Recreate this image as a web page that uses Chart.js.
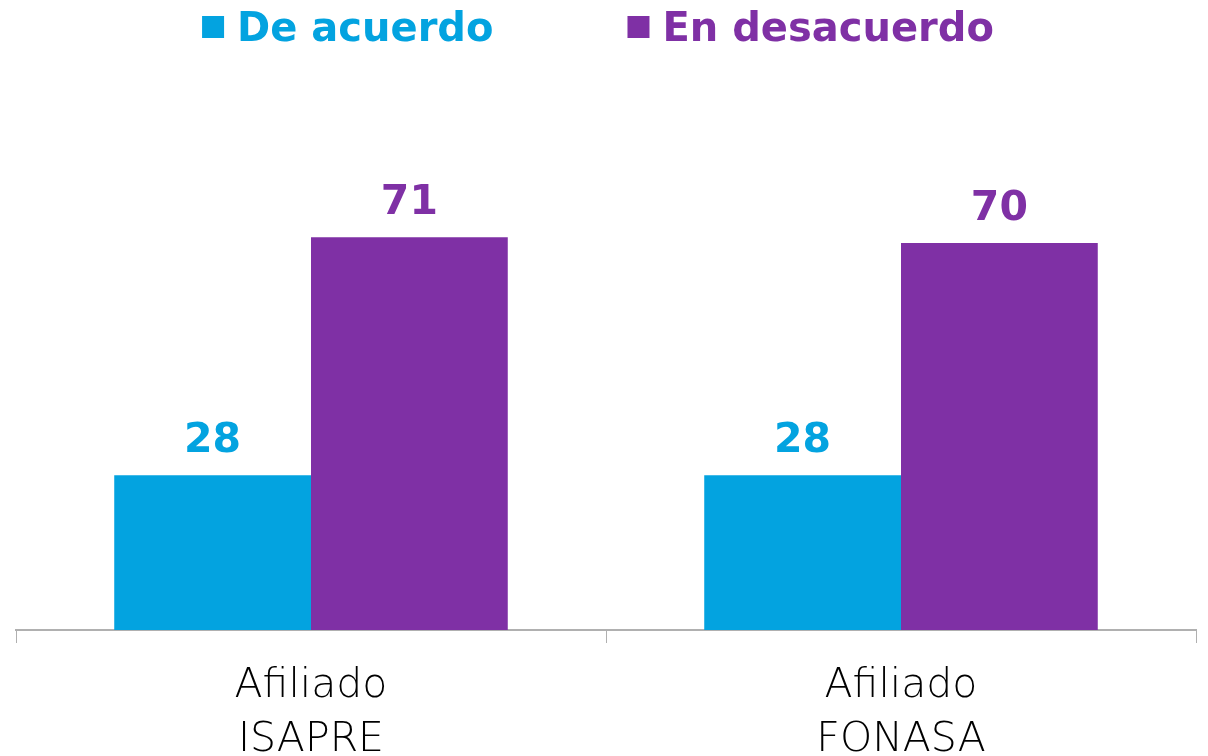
<!DOCTYPE html>
<html>
<head>
<meta charset="utf-8">
<script src="https://cdn.jsdelivr.net/npm/chart.js@4.4.1/dist/chart.umd.min.js"></script>
<style>
  html, body { margin: 0; padding: 0; background: #fff; overflow: hidden; }
  #wrap { width: 1208px; height: 783px; }
</style>
</head>
<body>
<div id="wrap"><canvas id="chart"></canvas></div>
<script>
const categories = [['Afiliado', 'ISAPRE'], ['Afiliado', 'FONASA']];
const seriesNames = ['De acuerdo', 'En desacuerdo'];
const deAcuerdo = [28, 28];
const enDesacuerdo = [71, 70];
const colors = ['#03a3e0', '#7f30a5'];

const boldFont = '"DejaVu Sans"';

// value above each bar
const valueLabels = {
    id: 'valueLabels',
    afterDatasetsDraw(chart) {
        const ctx = chart.ctx;
        ctx.save();
        ctx.font = 'bold 41px ' + boldFont;
        ctx.textAlign = 'center';
        ctx.textBaseline = 'alphabetic';
        chart.data.datasets.forEach((ds, i) => {
            ctx.fillStyle = ds.backgroundColor;
            chart.getDatasetMeta(i).data.forEach((bar, j) => {
                ctx.fillText(ds.data[j], bar.x, bar.y - 23);
            });
        });
        ctx.restore();
    }
};

// legend on top, drawn by hand so spacing matches
const topLegend = {
    id: 'topLegend',
    afterDraw(chart) {
        const ctx = chart.ctx;
        const box = 22, gapText = 13, gapItem = 134;
        ctx.save();
        ctx.font = 'bold 40px ' + boldFont;
        ctx.textBaseline = 'alphabetic';
        ctx.textAlign = 'left';
        const widths = chart.data.datasets.map(ds => box + gapText + ctx.measureText(ds.label).width);
        const total = widths.reduce((a, b) => a + b, 0) + gapItem * (widths.length - 1);
        let x = 598 - total / 2;
        chart.data.datasets.forEach((ds, i) => {
            ctx.fillStyle = ds.backgroundColor;
            ctx.fillRect(x, 16, box, box);
            ctx.fillText(ds.label, x + box + gapText, 41);
            x += widths[i] + gapItem;
        });
        ctx.restore();
    }
};

new Chart(document.getElementById('chart'), {
    type: 'bar',
    data: {
        labels: categories,
        datasets: [
            { label: seriesNames[0], data: deAcuerdo, backgroundColor: colors[0] },
            { label: seriesNames[1], data: enDesacuerdo, backgroundColor: colors[1] }
        ]
    },
    options: {
        responsive: true,
        maintainAspectRatio: false,
        animation: false,
        layout: { padding: { left: 16, right: 12, top: 77, bottom: 0 } },
        datasets: { bar: { categoryPercentage: 0.667, barPercentage: 1.0 } },
        plugins: {
            legend: { display: false },
            tooltip: { enabled: false }
        },
        scales: {
            y: { display: false, min: 0, max: 100 },
            x: {
                grid: { drawOnChartArea: false, drawTicks: true, tickLength: 13, color: '#b0b0b0' },
                border: { color: '#b0b0b0', width: 2 },
                ticks: {
                    color: '#000',
                    padding: 16,
                    font: { family: 'DejaVu Sans', size: 41, weight: 200, lineHeight: 54 / 41 }
                }
            }
        }
    },
    plugins: [valueLabels, topLegend]
});
</script>
</body>
</html>
